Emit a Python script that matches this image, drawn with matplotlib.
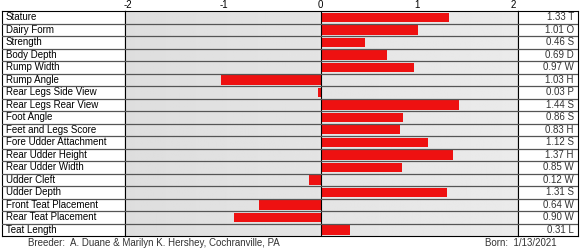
import matplotlib.pyplot as plt
import numpy as np

plt.rcParams['font.family'] = ['Liberation Sans', 'DejaVu Sans']

# trait names, values and value codes
traits = ['Stature', 'Dairy Form', 'Strength', 'Body Depth', 'Rump Width',
          'Rump Angle', 'Rear Legs Side View', 'Rear Legs Rear View',
          'Foot Angle', 'Feet and Legs Score', 'Fore Udder Attachment',
          'Rear Udder Height', 'Rear Udder Width', 'Udder Cleft',
          'Udder Depth', 'Front Teat Placement', 'Rear Teat Placement',
          'Teat Length']
values = [1.33, 1.01, 0.46, 0.69, 0.97, -1.03, -0.03, 1.44, 0.86, 0.83,
          1.12, 1.37, 0.85, -0.12, 1.31, -0.64, -0.90, 0.31]
codes = ['T', 'O', 'S', 'D', 'W', 'H', 'P', 'S', 'S', 'H', 'S', 'H', 'W',
         'W', 'S', 'W', 'W', 'L']
ticks = [-2, -1, 0, 1, 2]

n = len(traits)
y = np.arange(n)

fig = plt.figure(figsize=(5.81, 2.5), dpi=100)
W, H = 581, 250
top = 1 - 11 / H
bot = 1 - 236 / H
ax_l = fig.add_axes([2 / W, bot, 123 / W, top - bot])
ax = fig.add_axes([125 / W, bot, 393 / W, top - bot], sharey=ax_l)
ax_r = fig.add_axes([518 / W, bot, 60 / W, top - bot], sharey=ax_l)

# light gray gradient background in the plot area
grad = np.linspace(0.87, 0.92, 256).reshape(1, -1)
ax.imshow(grad, cmap='gray', vmin=0, vmax=1, aspect='auto',
          extent=[-2.03, 2.05, n - 0.5, -0.5], zorder=0)

ax.barh(y, values, height=0.76, color='#ee1111', zorder=2)
ax.axvline(0, color='black', lw=0.8, zorder=3)
ax.set_xlim(-2.03, 2.05)
ax.set_ylim(n - 0.5, -0.5)
ax.set_xticks(ticks)
ax.set_xticklabels([str(t) for t in ticks])
ax.xaxis.tick_top()
ax.tick_params(axis='x', length=0, labelsize=7, pad=1)
ax.tick_params(axis='y', left=False, labelleft=False)

for a in (ax_l, ax, ax_r):
    for b in np.arange(n - 1) + 0.5:
        a.axhline(b, color='#555555', lw=0.9, zorder=4)
    for s in a.spines.values():
        s.set_linewidth(0.8)
ax_l.set_xticks([])
ax_l.set_yticks([])
ax_r.set_xticks([])
ax_r.tick_params(axis='y', left=False, labelleft=False)

for i, t in enumerate(traits):
    ax_l.text(0.03, i, t, transform=ax_l.get_yaxis_transform(),
              va='center', ha='left', fontsize=7)
for i, (v, c) in enumerate(zip(values, codes)):
    ax_r.text(0.93, i, f'{abs(v):.2f} {c}', transform=ax_r.get_yaxis_transform(),
              va='center', ha='right', fontsize=7, color='#333333')

fig.text(28 / W, 1 - 243 / H, 'Breeder:  A. Duane & Marilyn K. Hershey, Cochranville, PA',
         fontsize=7, va='center', ha='left', color='#333333')
fig.text(485 / W, 1 - 243 / H, 'Born:  1/13/2021',
         fontsize=7, va='center', ha='left', color='#333333')

fig.savefig('out.png', dpi=100)
